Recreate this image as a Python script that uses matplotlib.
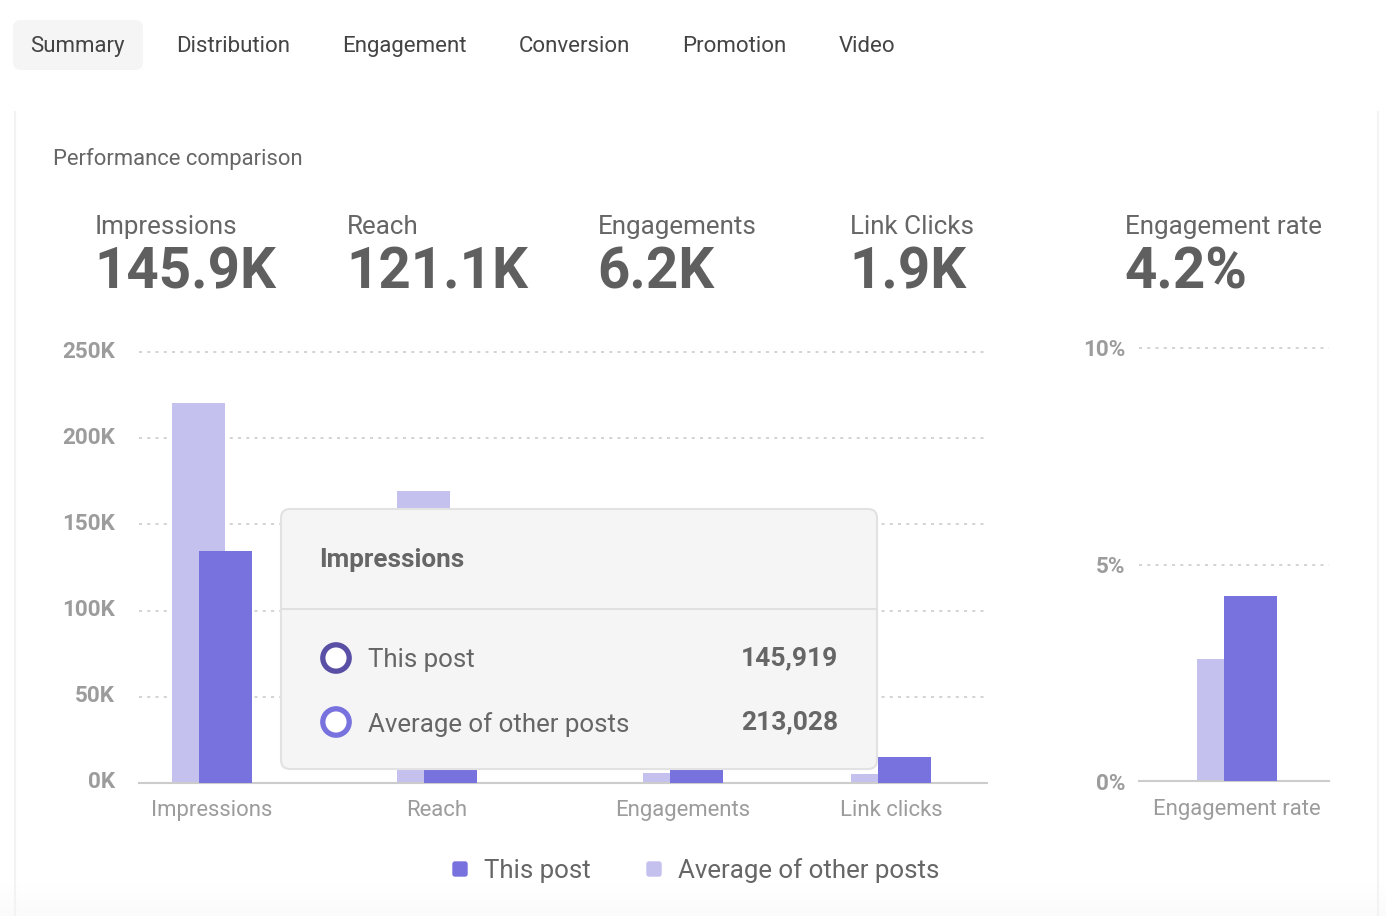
import numpy as np
import matplotlib
matplotlib.use('Agg')
import matplotlib.pyplot as plt
from matplotlib.patches import FancyBboxPatch, Circle
from matplotlib.transforms import offset_copy

plt.rcParams['font.family'] = ['Roboto', 'DejaVu Sans']

# data
tabs = ["Summary", "Distribution", "Engagement", "Conversion", "Promotion", "Video"]
kpi_names = ["Impressions", "Reach", "Engagements", "Link Clicks", "Engagement rate"]
kpi_values = ["145.9K", "121.1K", "6.2K", "1.9K", "4.2%"]
categories = ["Impressions", "Reach", "Engagements", "Link clicks"]
this_post = [134.6, 121, 8, 15]
avg_posts = [220.4, 169.4, 5.8, 5.2]
rate_category = ["Engagement rate"]
rate_this = [4.27]
rate_avg = [2.82]
ticks_main = [0, 50, 100, 150, 200, 250]
ticks_rate = [0, 5, 10]

# the columns are not evenly spaced in the original
cat_pos = [0, 0.994, 2.081, 3.0]

W, H = 1386, 916
PURPLE = "#7872de"
LILAC = "#c4c1ee"
DARK = "#5950a5"
TEXT = "#666666"
TICK = "#9c9c9c"
GRID = "#c8c8c8"
AXIS = "#cccccc"
slot_px = 226.3
bar_w = 53 / slot_px
avg_off = -13.5 / slot_px
this_off = 13.5 / slot_px


def px_axes(x0, x1, y_top, y_bottom):
    return fig.add_axes([x0 / W, 1 - y_bottom / H, (x1 - x0) / W, (y_bottom - y_top) / H])


def style_chart(ax, pad, xpad, label_shift):
    for s in ["top", "left", "right"]:
        ax.spines[s].set_visible(False)
    ax.spines["bottom"].set_color(AXIS)
    ax.spines["bottom"].set_linewidth(1.5)
    ax.tick_params(axis="y", length=0, pad=pad, labelsize=16.2, labelcolor=TICK)
    ax.tick_params(axis="x", length=0, pad=xpad, labelsize=15.9, labelcolor=TICK)
    for t in ax.get_yticklabels():
        t.set_fontweight("bold")
        t.set_transform(offset_copy(t.get_transform(), fig=fig, y=label_shift, units="dots"))
    ax.grid(True, axis="y", color=GRID, lw=1.1, dashes=(2.0, 3.4))
    for g in ax.get_ygridlines():
        g.set_clip_on(False)
    ax.grid(False, axis="x")
    ax.set_axisbelow(True)
    ax.patch.set_alpha(0)


fig = plt.figure(figsize=(W / 100, H / 100), dpi=100, facecolor="white")

# page background, card edges, tabs, headline numbers
bg = fig.add_axes([0, 0, 1, 1], zorder=0)
grad = np.linspace(1, 0.98, 40).reshape(-1, 1)
bg.imshow(grad, extent=[0, W, H, 876], cmap="gray", vmin=0, vmax=1, aspect="auto")
bg.set_xlim(0, W)
bg.set_ylim(H, 0)
bg.axis("off")
bg.plot([14.5, 14.5], [112, H], color="#f3f3f3", lw=1.5)
bg.plot([1377.5, 1377.5], [112, H], color="#f3f3f3", lw=1.5)

bg.add_patch(FancyBboxPatch((13, 20), 130, 50, boxstyle="round,pad=0,rounding_size=8",
                            fc="#f5f5f5", ec="none"))
for name, x in zip(tabs, [30.5, 176.5, 342.5, 519, 682.5, 839]):
    bg.text(x, 46.5, name, fontsize=16.0, color="#444444", va="center", ha="left")
bg.text(53, 158.5, "Performance comparison", fontsize=15.8, color=TEXT, va="center")
for name, value, x in zip(kpi_names, kpi_values, [95, 347, 598, 850, 1125]):
    bg.text(x, 227, name, fontsize=18.75, color=TEXT, va="center")
    bg.text(x - 1, 273, value, fontsize=40.7, color="#5f5f5f", fontweight="bold", va="center")

# main chart
ax = px_axes(139, 987, 352, 783)
x = np.array(cat_pos)
ax.bar(x + avg_off, avg_posts, bar_w, color=LILAC, zorder=2)
ax.bar(x + this_off, this_post, bar_w, color=PURPLE, zorder=3)
ax.set_xlim(-(212 - 139) / slot_px, (987 - 212) / slot_px)
ax.set_ylim(0, 250)
ax.set_yticks(ticks_main, [f"{v}K" for v in ticks_main])
ax.set_xticks(x, categories)
style_chart(ax, 17.5, 12.5, 3)

# engagement rate chart
ax2 = px_axes(1139, 1329, 348, 781)
x2 = np.array([0.0])
ax2.bar(x2 + avg_off, rate_avg, bar_w, color=LILAC, zorder=2)
ax2.bar(x2 + this_off, rate_this, bar_w, color=PURPLE, zorder=3)
ax2.set_xlim(-(1237 - 1139) / slot_px, (1329 - 1237) / slot_px)
ax2.set_ylim(0, 10)
ax2.set_yticks(ticks_rate, [f"{v}%" for v in ticks_rate])
ax2.set_xticks(x2, rate_category)
style_chart(ax2, 10, 13, 0)

# tooltip and legend sit on top of the charts
top = fig.add_axes([0, 0, 1, 1], zorder=5)
top.set_xlim(0, W)
top.set_ylim(H, 0)
top.axis("off")
top.add_patch(FancyBboxPatch((281, 509), 596, 260, boxstyle="round,pad=0,rounding_size=9",
                             fc="#f5f5f5", ec="#e2e2e2", lw=1.5))
top.plot([281, 877], [608.5, 608.5], color="#e0e0e0", lw=1.5)
top.text(319.5, 559.5, "Impressions", fontsize=18.8, fontweight="bold", color=TEXT, va="center")
rows = [("This post", "145,919", DARK, 658), ("Average of other posts", "213,028", PURPLE, 722)]
for label, val, col, y in rows:
    top.add_patch(Circle((336, y), 13.2, fc="white", ec=col, lw=3.8))
    top.text(368, y + 2.5, label, fontsize=18.65, color=TEXT, va="center")
    top.text(838.5, y, val, fontsize=19, fontweight="bold", color=TEXT, va="center", ha="right")

for label, col, x_sq, x_txt in [("This post", PURPLE, 452, 484), ("Average of other posts", LILAC, 646, 678)]:
    top.add_patch(FancyBboxPatch((x_sq + 1, 862), 14, 14, boxstyle="round,pad=0,rounding_size=2",
                                 fc=col, ec=col, lw=1))
    top.text(x_txt, 871, label, fontsize=18.65, color=TEXT, va="center")

fig.savefig("out.png", dpi=100)
